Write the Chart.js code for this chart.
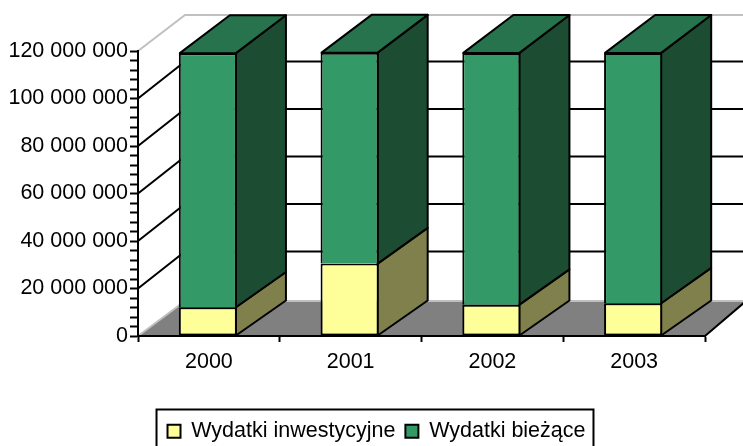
<!DOCTYPE html>
<html>
<head>
<meta charset="utf-8">
<style>
  html, body { margin: 0; padding: 0; background: #fff; overflow: hidden; }
  canvas { display: block; }
</style>
<script src="https://cdn.jsdelivr.net/npm/chart.js@4"></script>
</head>
<body>
<canvas id="chart" width="743" height="446"></canvas>
<script>
const categories = ['2000', '2001', '2002', '2003'];
const wydatkiInwestycyjne = [12100000, 30500000, 13200000, 13800000];
const wydatkiBiezace = [107000000, 88800000, 106000000, 105400000];
const seriesNames = ['Wydatki inwestycyjne', 'Wydatki bieżące'];
const seriesColors = ['#FFFF99', '#339966'];
const sideColors = ['#80804D', '#1C4D33'];
const topColors = ['#BFBF73', '#26734D'];

const FONT = 'Liberation Sans, Arial, sans-serif';

// 3D walls and floor, behind the axes
const wallsPlugin = {
  id: 'walls',
  beforeDraw(chart) {
    const ctx = chart.ctx;
    const { left, right } = chart.chartArea;
    const yScale = chart.scales.y;
    const dx = 47;
    const bottom = yScale.getPixelForValue(0);
    const top = yScale.getPixelForValue(yScale.max);
    const floorY = bottom - 35;
    const topY = top - 36;

    ctx.save();
    // floor
    ctx.fillStyle = '#808080';
    ctx.beginPath();
    ctx.moveTo(left, bottom);
    ctx.lineTo(right, bottom);
    ctx.lineTo(right + 41, floorY);
    ctx.lineTo(left + dx, floorY);
    ctx.closePath();
    ctx.fill();

    // light edges of the walls
    ctx.strokeStyle = '#C0C0C0';
    ctx.lineWidth = 2;
    ctx.beginPath();
    ctx.moveTo(left, top);
    ctx.lineTo(left + dx, topY);
    ctx.lineTo(right + dx, topY);
    ctx.moveTo(left, bottom);
    ctx.lineTo(left + dx, floorY);
    ctx.lineTo(right + dx, floorY);
    ctx.stroke();

    // gridlines every 20 000 000
    ctx.strokeStyle = '#000';
    ctx.lineWidth = 2;
    yScale.ticks.forEach(t => {
      if (t.value % 20000000 !== 0 || t.value === 0 || t.value === yScale.max) return;
      const y = yScale.getPixelForValue(t.value);
      ctx.beginPath();
      ctx.moveTo(left, y);
      ctx.lineTo(left + dx, y - 37);
      ctx.lineTo(right + dx, y - 37);
      ctx.stroke();
    });

    // right edge of the floor
    ctx.beginPath();
    ctx.moveTo(right, bottom);
    ctx.lineTo(right + 41, floorY);
    ctx.stroke();
    ctx.restore();
  }
};

// side and top faces of the bars
const barDepthPlugin = {
  id: 'barDepth',
  afterDatasetsUpdate(chart) {
    // bars sit a little left of the category centre
    chart.data.datasets.forEach((ds, i) => {
      chart.getDatasetMeta(i).data.forEach(bar => { bar.x -= 1; });
    });
  },
  beforeDatasetsDraw(chart) {
    const ctx = chart.ctx;
    const yScale = chart.scales.y;
    const bottom = yScale.getPixelForValue(0);
    const dx = 50;
    // back edge rises slightly more the higher the bar goes
    const backY = y => y - 35 - (bottom - y) * 0.01;
    ctx.save();
    ctx.strokeStyle = '#000';
    ctx.lineWidth = 2;
    ctx.lineJoin = 'round';
    chart.data.datasets.forEach((ds, i) => {
      chart.getDatasetMeta(i).data.forEach(bar => {
        const p = bar.getProps(['x', 'y', 'base', 'width'], true);
        const l = p.x - p.width / 2 + 1;
        const r = p.x + p.width / 2 - 1;
        ctx.fillStyle = sideColors[i];
        ctx.beginPath();
        ctx.moveTo(r, p.base);
        ctx.lineTo(r + dx, backY(p.base));
        ctx.lineTo(r + dx, backY(p.y));
        ctx.lineTo(r, p.y);
        ctx.closePath();
        ctx.fill();
        ctx.stroke();
        if (i === chart.data.datasets.length - 1) {
          ctx.fillStyle = topColors[i];
          ctx.beginPath();
          ctx.moveTo(l, p.y);
          ctx.lineTo(l + dx, backY(p.y));
          ctx.lineTo(r + dx, backY(p.y));
          ctx.lineTo(r, p.y);
          ctx.closePath();
          ctx.fill();
          ctx.stroke();
        }
      });
    });
    ctx.restore();
  }
};

// legend is not centred on the plot, and has a frame whose bottom edge falls off the page
const legendFramePlugin = {
  id: 'legendFrame',
  afterLayout(chart) {
    chart.legend.left += 24;
    chart.legend.right += 24;
  },
  afterDraw(chart) {
    const legend = chart.legend;
    const lineWidth = legend.lineWidths[0];
    const start = (legend.left + legend.right - lineWidth) / 2;
    const x0 = start - 6;
    const x1 = start + lineWidth + 3;
    const ctx = chart.ctx;
    ctx.save();
    ctx.strokeStyle = '#000';
    ctx.lineWidth = 2;
    ctx.strokeRect(x0, 409.5, x1 - x0, 50);
    ctx.restore();
  }
};

new Chart(document.getElementById('chart'), {
  type: 'bar',
  data: {
    labels: categories,
    datasets: [
      {
        label: seriesNames[0],
        data: wydatkiInwestycyjne,
        backgroundColor: seriesColors[0],
        borderColor: '#000',
        borderWidth: 2,
        borderSkipped: false
      },
      {
        label: seriesNames[1],
        data: wydatkiBiezace,
        backgroundColor: seriesColors[1],
        borderColor: '#000',
        borderWidth: 2,
        borderSkipped: 'bottom'
      }
    ]
  },
  plugins: [wallsPlugin, barDepthPlugin, legendFramePlugin],
  options: {
    responsive: false,
    animation: false,
    devicePixelRatio: 1,
    barPercentage: 0.41,
    categoryPercentage: 1,
    layout: {
      padding: { left: 0, right: 38, top: 51, bottom: -6 }
    },
    plugins: {
      title: { display: false },
      tooltip: { enabled: false },
      legend: {
        position: 'bottom',
        labels: {
          color: '#000',
          boxWidth: 13,
          boxHeight: 13,
          padding: 10,
          font: { family: FONT, size: 21.5 }
        }
      }
    },
    scales: {
      x: {
        stacked: true,
        afterFit(scale) { scale.height = 74.5; },
        border: { color: '#000', width: 2 },
        grid: { drawOnChartArea: false, color: '#000', tickLength: 6, tickWidth: 2 },
        ticks: {
          color: '#000',
          maxRotation: 0,
          padding: 7,
          font: { family: FONT, size: 21.5 }
        }
      },
      y: {
        stacked: true,
        min: 0,
        max: 120000000,
        afterFit(scale) { scale.width = 138; },
        border: { color: '#000', width: 2 },
        grid: { drawOnChartArea: false, color: '#000', tickLength: 8, tickWidth: 2 },
        ticks: {
          color: '#000',
          stepSize: 4000000,
          autoSkip: false,
          padding: 2,
          font: { family: FONT, size: 21.5 },
          callback: function(value) {
            if (value % 20000000 !== 0) return '';
            return String(value).replace(/\B(?=(\d{3})+$)/g, ' ');
          }
        }
      }
    }
  }
});
</script>
</body>
</html>
